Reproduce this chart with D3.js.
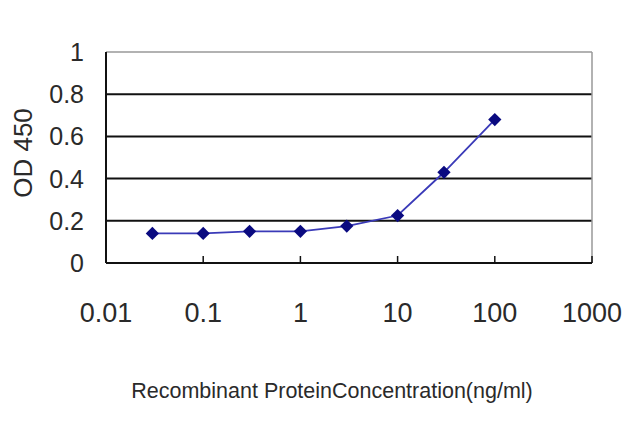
<!DOCTYPE html>
<html>
<head>
<meta charset="utf-8">
<script src="https://cdn.jsdelivr.net/npm/d3@7"></script>
<style>
  body { margin: 0; background: #fff; }
  text { font-family: "Liberation Sans", Arial, sans-serif; fill: #2a2a2a; }
</style>
</head>
<body>
<div id="chart"></div>
<script>
var width = 640;
var height = 427;

// plot box in pixels
var plotLeft = 106, plotRight = 592, plotTop = 52, plotBottom = 263;

// data
var concentrations = [0.03, 0.1, 0.3, 1, 3, 10, 30, 100];
var od450 = [0.14, 0.14, 0.15, 0.15, 0.175, 0.225, 0.43, 0.68];
var xTicks = [0.01, 0.1, 1, 10, 100, 1000];
var xTickLabels = ['0.01', '0.1', '1', '10', '100', '1000'];
var yTicks = [0, 0.2, 0.4, 0.6, 0.8, 1];
var yTickLabels = ['0', '0.2', '0.4', '0.6', '0.8', '1'];

var svg = d3.select('#chart').append('svg').attr('width', width).attr('height', height);

var x = d3.scaleLog().domain([0.01, 1000]).range([plotLeft, plotRight]);
var y = d3.scaleLinear().domain([0, 1]).range([plotBottom, plotTop]);

// grid lines (black), top one grey like the frame
svg.selectAll('line.grid').data(yTicks.filter(function(d) { return d > 0; })).enter().append('line')
  .attr('class', 'grid')
  .attr('x1', plotLeft).attr('x2', plotRight)
  .attr('y1', function(d) { return y(d); }).attr('y2', function(d) { return y(d); })
  .attr('stroke', function(d) { return d === 1 ? '#999' : '#111'; })
  .attr('stroke-width', function(d) { return d === 1 ? 1.5 : 2; });

// right frame
svg.append('line').attr('x1', plotRight).attr('x2', plotRight).attr('y1', plotTop).attr('y2', plotBottom)
  .attr('stroke', '#999').attr('stroke-width', 1.5);

// axes
svg.append('line').attr('x1', plotLeft).attr('x2', plotLeft).attr('y1', plotTop).attr('y2', plotBottom)
  .attr('stroke', '#111').attr('stroke-width', 2);
svg.append('line').attr('x1', plotLeft).attr('x2', plotRight).attr('y1', plotBottom).attr('y2', plotBottom)
  .attr('stroke', '#111').attr('stroke-width', 2);

// small inward ticks on the x axis
svg.selectAll('line.xtick').data(xTicks.slice(1)).enter().append('line')
  .attr('class', 'xtick')
  .attr('x1', function(d) { return x(d); }).attr('x2', function(d) { return x(d); })
  .attr('y1', plotBottom - 7).attr('y2', plotBottom)
  .attr('stroke', '#111').attr('stroke-width', 1.5);

// tick labels
svg.selectAll('text.ylab').data(yTicks).enter().append('text')
  .attr('class', 'ylab')
  .attr('x', 84)
  .attr('y', function(d) { return y(d); })
  .attr('dy', '0.36em')
  .attr('text-anchor', 'end')
  .style('font-size', '25px')
  .text(function(d, i) { return yTickLabels[i]; });

svg.selectAll('text.xlab').data(xTicks).enter().append('text')
  .attr('class', 'xlab')
  .attr('x', function(d) { return x(d); })
  .attr('y', 322)
  .attr('text-anchor', 'middle')
  .style('font-size', '27px')
  .text(function(d, i) { return xTickLabels[i]; });

// axis titles
svg.append('text')
  .attr('transform', 'translate(32,153) rotate(-90)')
  .attr('text-anchor', 'middle')
  .style('font-size', '26px')
  .text('OD 450');

svg.append('text')
  .attr('x', 332).attr('y', 398)
  .attr('text-anchor', 'middle')
  .style('font-size', '21.5px')
  .text('Recombinant ProteinConcentration(ng/ml)');

// the curve
var line = d3.line()
  .x(function(d, i) { return x(concentrations[i]); })
  .y(function(d) { return y(d); });

svg.append('path').datum(od450)
  .attr('d', line)
  .attr('fill', 'none')
  .attr('stroke', '#3a3ab8')
  .attr('stroke-width', 1.8);

// markers: squares turned 45 degrees
svg.selectAll('path.dot').data(od450).enter().append('path')
  .attr('class', 'dot')
  .attr('d', d3.symbol().type(d3.symbolSquare).size(88))
  .attr('transform', function(d, i) { return 'translate(' + x(concentrations[i]) + ',' + y(d) + ') rotate(45)'; })
  .attr('fill', '#0a0a80');
</script>
</body>
</html>
